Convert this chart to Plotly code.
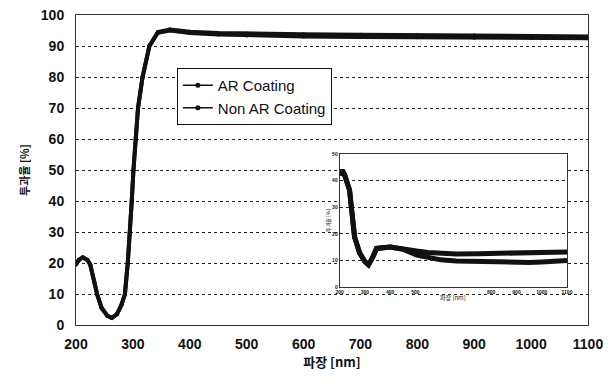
import plotly.graph_objects as go

# Main chart: transmittance (%) vs wavelength (nm)
wl = [200, 205, 212, 220, 225, 232, 237, 245, 255, 263, 272, 280, 286, 291, 295, 298, 301, 305,
      309, 317, 329, 344, 365, 380, 400, 450, 500, 600, 700, 800, 900, 1000, 1100]
ar_T = [19.5, 21, 21.8, 21, 19.5, 14, 10, 5.5, 3, 2.3, 3.5, 6.5, 10, 20, 30, 40, 50, 60,
        70, 80, 90, 94.5, 95.3, 95, 94.6, 94.2, 94.0, 93.8, 93.6, 93.5, 93.4, 93.2, 93.1]
non_T = [19.5, 21, 21.8, 21, 19.5, 14, 10, 5.5, 3, 2.3, 3.5, 6.5, 10, 20, 30, 40, 50, 60,
         70, 80, 90, 94.3, 95.0, 94.7, 94.2, 93.7, 93.4, 93.1, 92.9, 92.8, 92.7, 92.6, 92.5]

# Inset chart curves
wl_in = [200, 210, 220, 239, 259, 279, 300, 314, 330, 346, 400, 450, 505, 550, 600, 662, 750,
         850, 950, 1000, 1050, 1100]
ar_in = [42, 44, 42, 36.5, 18.8, 12.8, 9.5, 8.3, 11, 14.5, 15, 14.5, 13.5, 13, 12.6, 12.4, 12.5,
         12.8, 12.8, 13, 13, 13.2]
non_in = [42, 44, 42, 36.5, 18.8, 12.8, 9.5, 8.3, 11, 14.5, 15, 14.2, 12, 11, 10.2, 9.8, 9.5,
          9.2, 9.2, 9.4, 9.8, 10]

x_ticks = [200, 300, 400, 500, 600, 700, 800, 900, 1000, 1100]
y_ticks = [0, 10, 20, 30, 40, 50, 60, 70, 80, 90, 100]
inset_x_text = ["200", "300", "400", "500", "", "", "800", "900", "1000", "1100"]
inset_y_ticks = [0, 10, 20, 30, 40, 50]
series_names = ["AR Coating", "Non AR Coating"]

BASE = "Liberation Sans, Noto Sans CJK KR, sans-serif"
KR = "Noto Sans CJK KR, Liberation Sans, sans-serif"
INK = "#111111"

fig = go.Figure()
for name, vals in zip(series_names, [ar_T, non_T]):
    fig.add_trace(go.Scatter(x=wl, y=vals, name=name, mode="lines+markers", showlegend=False,
                             line=dict(color=INK, width=4), marker=dict(size=4, color=INK)))
# legend entries drawn with thin line + dot (as in the reference legend)
for name in series_names:
    fig.add_trace(go.Scatter(x=[None], y=[None], name=name, mode="lines+markers",
                             line=dict(color=INK, width=1.5), marker=dict(size=5, color=INK)))
fig.add_trace(go.Scatter(x=wl_in, y=ar_in, xaxis="x2", yaxis="y2", mode="lines", showlegend=False,
                         line=dict(color=INK, width=5)))
fig.add_trace(go.Scatter(x=wl_in, y=non_in, xaxis="x2", yaxis="y2", mode="lines", showlegend=False,
                         line=dict(color=INK, width=5)))

fig.update_layout(
    template="none",
    width=616, height=383,
    margin=dict(l=76, r=28, t=15, b=58),
    paper_bgcolor="white", plot_bgcolor="white",
    font=dict(family=BASE, color=INK, size=13),
    xaxis=dict(range=[200, 1100], tickvals=x_ticks, showgrid=False, zeroline=False,
               showline=True, mirror=True, linecolor="#333333", linewidth=1, ticks="",
               automargin=False, ticklabelstandoff=6,
               tickfont=dict(size=14, weight="bold", color=INK),
               title=dict(text="파장 [nm]", font=dict(family=KR, size=13, color=INK, weight="bold"),
                          standoff=4)),
    yaxis=dict(range=[0, 100], tickvals=y_ticks, showgrid=True, gridcolor="#222222",
               griddash="3px,3px", gridwidth=1.3, zeroline=False, automargin=False,
               showline=True, mirror=True, linecolor="#333333", linewidth=1, ticks="",
               ticklabelstandoff=8,
               tickfont=dict(size=14, weight="bold", color=INK),
               title=dict(text="투과율 [%]", font=dict(family=KR, size=11, color=INK, weight="bold"),
                          standoff=8)),
    xaxis2=dict(domain=[0.515, 0.959], anchor="y2", range=[200, 1100], tickvals=x_ticks,
                ticktext=inset_x_text, showgrid=False, zeroline=False, showline=True,
                mirror=True, linecolor="#333333", linewidth=1, ticks="", automargin=False,
                tickfont=dict(size=5, weight="bold", color=INK)),
    yaxis2=dict(domain=[0.1226, 0.5516], anchor="x2", range=[0, 50], tickvals=inset_y_ticks,
                showgrid=True, gridcolor="#222222", griddash="3px,3px", gridwidth=1.2,
                zeroline=False, showline=True, mirror=True, linecolor="#333333", linewidth=1,
                ticks="", automargin=False, tickfont=dict(size=5, weight="bold", color=INK),
                title=dict(text="투과율 [%]", font=dict(family=KR, size=5, color=INK), standoff=1)),
    legend=dict(x=0.197, y=0.829, xanchor="left", yanchor="top",
                bgcolor="white", bordercolor=INK, borderwidth=1,
                font=dict(family=BASE, size=15, color=INK), itemwidth=30),
    annotations=[dict(text="파장 [nm]", xref="x2", yref="paper", x=650, y=0.09,
                      showarrow=False, font=dict(family=KR, size=6, color=INK), yanchor="middle")],
)

fig.write_html("out.html", config={"displayModeBar": False},
               post_script="document.body.style.margin='0';")
